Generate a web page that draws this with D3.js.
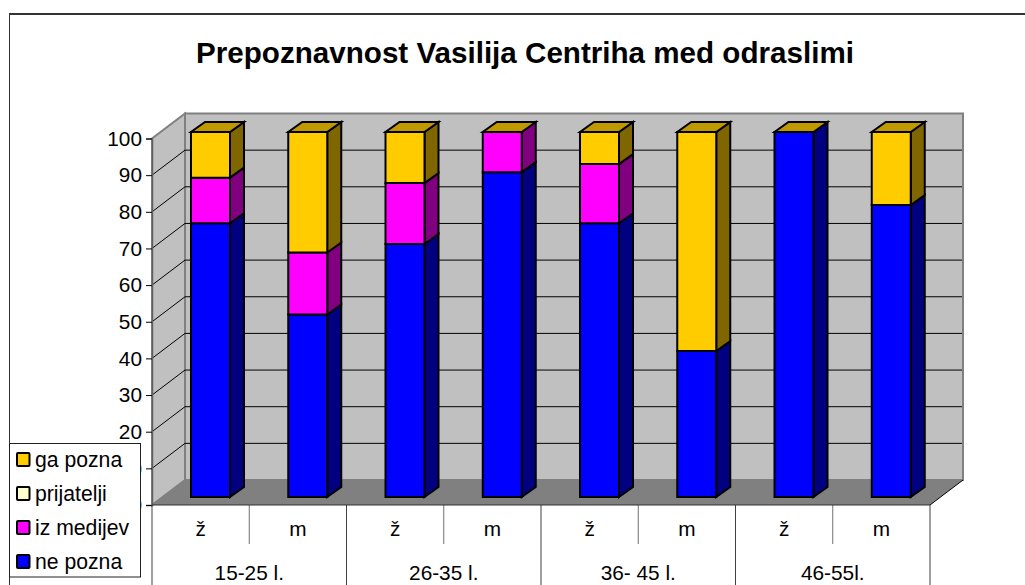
<!DOCTYPE html>
<html><head><meta charset="utf-8">
<script src="https://cdn.jsdelivr.net/npm/d3@7"></script>
<style>html,body{margin:0;padding:0;background:#fff;overflow:hidden}svg{display:block}text{font-family:"Liberation Sans",Arial,sans-serif;fill:#000}</style>
</head><body><svg id="c" width="1025" height="585"></svg>
<script>
const title = "Prepoznavnost Vasilija Centriha med odraslimi";
const sexes = ["ž","m","ž","m","ž","m","ž","m"];
const ages = ["15-25 l.","26-35 l.","36- 45 l.","46-55l."];
const nePozna = [75,50,69.3,89,75,40,100,80];
const izMedijev = [12.5,17,16.7,11,16.2,0,0,0];
const prijatelji = [0,0,0,0,0,0,0,0];
const gaPozna = [12.5,33,14,0,8.8,60,0,20];
const seriesNames = ["ne pozna","iz medijev","prijatelji","ga pozna"];
const seriesValues = [nePozna,izMedijev,prijatelji,gaPozna];
const seriesColors = ["#0000ff","#ff00ff","#ffffcc","#ffcc00"];
const sideColors = ["#000080","#800080","#808066","#806600"];
const topColor = "#c09900";
const ticks = d3.range(0,101,10);

const svg = d3.select("#c");
const ix = d3.range(sexes.length);
const x = d3.scaleBand().domain(ix).range([152,930]);
const y = d3.scaleLinear().domain([0,100]).range([505,138.5]);
const barY = d3.scaleLinear().domain([0,100]).range([497,132]);
const wallDx = 33, wallDy = -25, barDx = 14, barDy = -10, barW = 39;
const fs = 20.8;

svg.append("line").attr("x1",9).attr("x2",1025).attr("y1",14).attr("y2",14).attr("stroke","#333").attr("stroke-width",2);
svg.append("line").attr("x1",9.5).attr("x2",9.5).attr("y1",14).attr("y2",585).attr("stroke","#333");
svg.append("text").attr("x",525).attr("y",63).attr("text-anchor","middle")
  .attr("font-size",29.6).attr("font-weight","bold").text(title);

// walls
const L=x.range()[0], R=x.range()[1], B=y(0), T=y(100);
const poly=(pts,f,s,w)=>svg.append("polygon").attr("points",pts.map(p=>p.join(",")).join(" "))
  .attr("fill",f).attr("stroke",s||"none").attr("stroke-width",w||0);
poly([[L+wallDx,B+wallDy],[R+wallDx,B+wallDy],[R+wallDx,T+wallDy],[L+wallDx,T+wallDy]],"#c0c0c0","#808080",2);
poly([[L,B],[L+wallDx,B+wallDy],[L+wallDx,T+wallDy],[L,T]],"#c0c0c0","#808080",2);
poly([[L,B],[R,B],[R+wallDx,B+wallDy],[L+wallDx,B+wallDy]],"#808080");
// grid
ticks.filter(t=>t>0&&t<100).forEach(t=>{
  svg.append("line").attr("x1",L+wallDx).attr("x2",R+wallDx-1).attr("y1",y(t)+wallDy).attr("y2",y(t)+wallDy).attr("stroke","#000");
  svg.append("line").attr("x1",L).attr("x2",L+wallDx).attr("y1",y(t)).attr("y2",y(t)+wallDy).attr("stroke","#000");
});
svg.append("line").attr("x1",L).attr("x2",L+wallDx).attr("y1",B).attr("y2",B+wallDy).attr("stroke","#808080");
svg.append("line").attr("x1",R).attr("x2",R+wallDx).attr("y1",B).attr("y2",B+wallDy).attr("stroke","#000");
// y axis
const gy=svg.append("g").attr("transform",`translate(${L},0)`).call(d3.axisLeft(y).tickValues(ticks).tickSize(6).tickPadding(4));
gy.select(".domain").attr("stroke","#606060").attr("stroke-width",1.5);
gy.selectAll("text").attr("font-size",fs).attr("font-family",'"Liberation Sans",Arial,sans-serif');
// x axis table
const tableBottom=585, sexBottom=544;
ix.concat([sexes.length]).forEach(i=>{
  const px=L+i*x.step(), major=i%2===0;
  svg.append("line").attr("x1",px).attr("x2",px).attr("y1",B).attr("y2",major?tableBottom:sexBottom).attr("stroke",major?"#404040":"#707070");
});
svg.append("line").attr("x1",L).attr("x2",R).attr("y1",B).attr("y2",B).attr("stroke","#303030");
ix.forEach(i=>svg.append("text").attr("x",x(i)+x.bandwidth()/2).attr("y",536).attr("text-anchor","middle").attr("font-size",fs).text(sexes[i]));
ages.forEach((a,i)=>svg.append("text").attr("x",L+(i+.5)*2*x.step()).attr("y",580).attr("text-anchor","middle").attr("font-size",fs).text(a));
// bars
ix.forEach(i=>{
  const x0=x(i)+39; let acc=0;
  const segs=seriesValues.map((s,k)=>({k,v:s[i]})).filter(d=>d.v>0);
  segs.forEach((d,n)=>{
    const yb=barY(acc), yt=barY(acc+d.v); acc+=d.v;
    poly([[x0+barW,yb],[x0+barW+barDx,yb+barDy],[x0+barW+barDx,yt+barDy],[x0+barW,yt]],sideColors[d.k],"#000",2);
    poly([[x0,yb],[x0+barW,yb],[x0+barW,yt],[x0,yt]],seriesColors[d.k],"#000",2);
    if(n===segs.length-1) poly([[x0,yt],[x0+barW,yt],[x0+barW+barDx,yt+barDy],[x0+barDx,yt+barDy]],topColor,"#000",2);
  });
});
// legend
svg.append("rect").attr("x",9.5).attr("y",443.5).attr("width",131).attr("height",133.5).attr("fill","#fff").attr("stroke","#202020");
const legendOrder=[3,2,1,0];
const ly=d3.scalePoint().domain(legendOrder).range([460,562]);
legendOrder.forEach(k=>{
  svg.append("rect").attr("x",17).attr("y",ly(k)-7).attr("width",12.5).attr("height",13).attr("rx",1).attr("fill",seriesColors[k]).attr("stroke","#000").attr("stroke-width",2);
  svg.append("text").attr("x",35).attr("y",ly(k)+7).attr("font-size",fs+0.4).text(seriesNames[k]);
});
</script></body></html>
